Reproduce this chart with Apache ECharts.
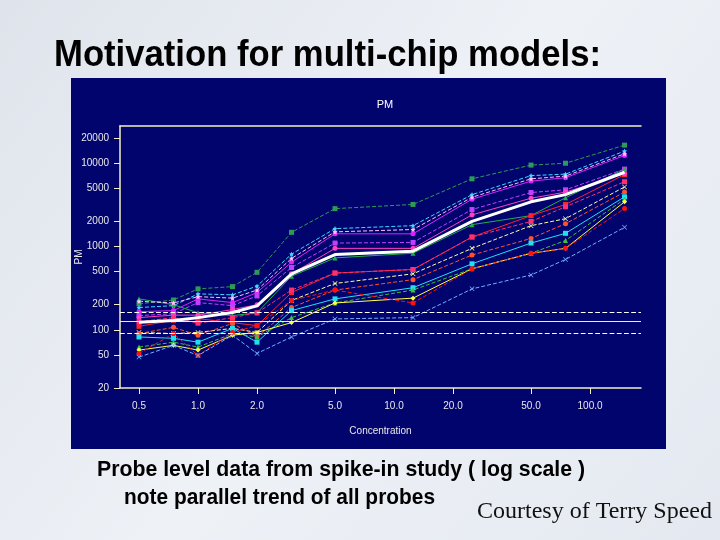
<!DOCTYPE html>
<html>
<head>
<meta charset="utf-8">
<script src="https://cdn.jsdelivr.net/npm/echarts@6/dist/echarts.min.js"></script>
<style>
  html, body { margin: 0; padding: 0; }
  #chart { width: 720px; height: 540px; }
</style>
</head>
<body>
<div id="chart"></div>
<script>
// concentrations (pM) of the spike-in series
const conc = [0.5, 0.75, 1, 1.5, 2, 3, 5, 12.5, 25, 50, 75, 150];
const xTicks = [0.5, 1, 2, 5, 10, 20, 50, 100];
const yTicks = [20, 50, 100, 200, 500, 1000, 2000, 5000, 10000, 20000];

// PM values per probe
const probe1 = [205, 228, 310, 330, 490, 1480, 2850, 3200, 6500, 9500, 10000, 16500];
const probe2 = [185, 195, 270, 263, 335, 810, 1640, 1780, 4200, 7100, 7400, 14000];
const probe3 = [165, 170, 235, 212, 280, 650, 1420, 1420, 3700, 6100, 6700, 12400];
const probe4 = [148, 156, 212, 195, 255, 560, 1100, 1120, 2780, 4450, 4800, 8500];
const probe5 = [235, 200, 160, 148, 160, 440, 730, 830, 1830, 2350, 3850, 8500];
const probe6 = [110, 130, 136, 122, 112, 280, 480, 530, 1300, 2350, 3200, 7300];
const probe7 = [93, 90, 93, 104, 93, 225, 360, 470, 950, 1780, 2160, 5200];
const probe8 = [90, 107, 86, 119, 82, 185, 300, 400, 790, 1250, 1880, 4500];
const probe9 = [82, 79, 71, 104, 71, 170, 235, 320, 620, 1100, 1440, 3950];
const probe10 = [62, 71, 62, 90, 82, 140, 210, 300, 540, 830, 1180, 3700];
const probe11 = [57, 65, 57, 86, 93, 122, 210, 240, 540, 830, 950, 3440];
const probe12 = [52, 90, 49, 93, 112, 225, 300, 210, 540, 830, 950, 2860];
const probe13 = [47, 65, 49, 86, 52, 82, 135, 140, 310, 455, 700, 1700];
const probe14 = [220, 210, 250, 240, 300, 720, 1500, 1600, 3900, 6500, 7000, 13000];
const probe15 = [140, 150, 150, 175, 200, 470, 950, 950, 2400, 3800, 4500, 7500];
const probe16 = [125, 140, 120, 140, 160, 300, 480, 530, 1300, 2000, 3000, 6000];
const median = [123, 129, 140, 161, 194, 470, 800, 880, 2000, 3440, 4200, 7800];
const refLines = [91, 125, 163];

const star = 'path://M0,-10L2.9,-4L9.5,-3.1L4.7,1.5L5.9,8.1L0,5L-5.9,8.1L-4.7,1.5L-9.5,-3.1L-2.9,-4Z';
const cross = 'path://M-5,-4L-4,-5L0,-1L4,-5L5,-4L1,0L5,4L4,5L0,1L-4,5L-5,4L-1,0Z';

const probes = [
  { v: probe1, c: '#2e9a55', s: 'rect', t: 'dashed' },
  { v: probe2, c: '#40d8ff', s: star, t: 'dashed' },
  { v: probe3, c: '#e020ff', s: 'circle', t: 'solid' },
  { v: probe4, c: '#c040ff', s: 'rect', t: 'dashed' },
  { v: probe5, c: '#22b04a', s: 'triangle', t: 'solid' },
  { v: probe6, c: '#ff2030', s: 'rect', t: 'solid' },
  { v: probe7, c: '#ffffa0', s: cross, t: 'dashed' },
  { v: probe8, c: '#ff5030', s: 'circle', t: 'dashed' },
  { v: probe9, c: '#20e0f0', s: 'rect', t: 'solid' },
  { v: probe10, c: '#40c040', s: 'triangle', t: 'dashed' },
  { v: probe11, c: '#ffff40', s: 'diamond', t: 'solid' },
  { v: probe12, c: '#ff1010', s: 'circle', t: 'dashed' },
  { v: probe13, c: '#70b0ff', s: cross, t: 'dashed' },
  { v: probe14, c: '#ffc0ff', s: star, t: 'dashed' },
  { v: probe15, c: '#ff40c0', s: 'circle', t: 'solid' },
  { v: probe16, c: '#ff3070', s: 'rect', t: 'dashed' }
];

// slide texts are squeezed to the width they take on the slide
const measureCtx = document.createElement('canvas').getContext('2d');
function slideText(text, x, baseline, size, width, weight, family, color) {
  const font = weight + ' ' + size + 'px ' + family;
  measureCtx.font = font;
  const w = measureCtx.measureText(text).width;
  const sx = width / w;
  return {
    type: 'text', x: x, y: baseline - size * 0.34, scaleX: sx, z: 10,
    style: { text: text, font: font, fill: color, verticalAlign: 'middle', align: 'left' }
  };
}

const chart = echarts.init(document.getElementById('chart'));

const series = probes.map((p, k) => ({
  name: 'probe' + (k + 1),
  type: 'line',
  data: conc.map((x, i) => [x, p.v[i]]),
  symbol: p.s,
  symbolSize: 5,
  itemStyle: { color: p.c },
  lineStyle: { color: p.c, width: 1, type: p.t },
  animation: false
}));

series.push({
  name: 'median',
  type: 'line',
  data: conc.map((x, i) => [x, median[i]]),
  symbol: 'none',
  lineStyle: { color: '#ffffff', width: 3 },
  z: 5,
  animation: false,
  markLine: {
    silent: true,
    symbol: 'none',
    label: { show: false },
    animation: false,
    data: refLines.map((y, i) => ({
      yAxis: y,
      lineStyle: { color: i === 1 ? '#f4f0c0' : '#ffffff', width: 1.2, type: i === 1 ? 'solid' : 'dashed' }
    }))
  }
});

const axisCol = '#f4f0c0';
const labelFont = { color: '#e8e8e8', fontSize: 10, fontFamily: 'Liberation Sans' };

chart.setOption({
  animation: false,
  backgroundColor: '#e9edf3',
  graphic: [
    { type: 'rect', z: -30, shape: { x: 0, y: 0, width: 720, height: 540 },
      style: { fill: new echarts.graphic.LinearGradient(0, 0, 1, 1, [
        { offset: 0, color: '#dfe4ec' }, { offset: 0.5, color: '#eef1f6' }, { offset: 1, color: '#e4e9f1' }
      ]) } },
    { type: 'rect', z: -20, shape: { x: 71, y: 78, width: 595, height: 371 }, style: { fill: '#02046e' } },
    slideText('Motivation for multi-chip models:', 54, 68, 36, 547, 'bold', '"Liberation Sans"', '#000'),
    slideText('Probe level data from spike-in study ( log scale )', 97, 477, 22, 488, 'bold', '"Liberation Sans"', '#000'),
    slideText('note parallel trend of all probes', 124, 505, 22, 311, 'bold', '"Liberation Sans"', '#000'),
    slideText('Courtesy of Terry Speed', 477, 520, 24, 235, 'normal', '"Liberation Serif"', '#111')
  ],
  title: [
    { text: 'PM', left: 380, top: 94, textAlign: 'center',
      textStyle: { fontSize: 11, fontWeight: 'normal', color: '#ffffff', fontFamily: 'Liberation Sans' } }
  ],
  grid: { left: 120, right: 79, top: 126, bottom: 152, containLabel: false },
  xAxis: [
    {
      type: 'log', min: 0.4, max: 182,
      name: 'Concentration', nameLocation: 'middle', nameGap: 38, nameMoveOverlap: false,
      nameTextStyle: { color: '#e8e8e8', fontSize: 10, fontFamily: 'Liberation Sans' },
      axisLine: { lineStyle: { color: axisCol, width: 1.5 } },
      axisTick: { length: 6, lineStyle: { color: axisCol }, customValues: xTicks },
      axisLabel: Object.assign({ margin: 13, customValues: xTicks, formatter: v => Number(v).toFixed(1) }, labelFont),
      splitLine: { show: false },
      minorTick: { show: false }
    },
    {
      type: 'log', min: 0.4, max: 182, position: 'top',
      axisLine: { lineStyle: { color: axisCol, width: 1.5 } },
      axisTick: { show: false }, axisLabel: { show: false }, splitLine: { show: false }
    }
  ],
  yAxis: {
    type: 'log', min: 20, max: 28000,
    name: 'PM', nameLocation: 'middle', nameGap: 36, nameRotate: 90, nameMoveOverlap: false,
    nameTextStyle: { color: '#e8e8e8', fontSize: 10, fontFamily: 'Liberation Sans' },
    axisLine: { show: true, lineStyle: { color: axisCol, width: 1.5 } },
    axisTick: { show: true, length: 6, lineStyle: { color: axisCol }, customValues: yTicks },
    axisLabel: Object.assign({ margin: 11, customValues: yTicks, formatter: v => String(Math.round(v)) }, labelFont),
    splitLine: { show: false }
  },
  series: series
});
</script>
</body>
</html>
